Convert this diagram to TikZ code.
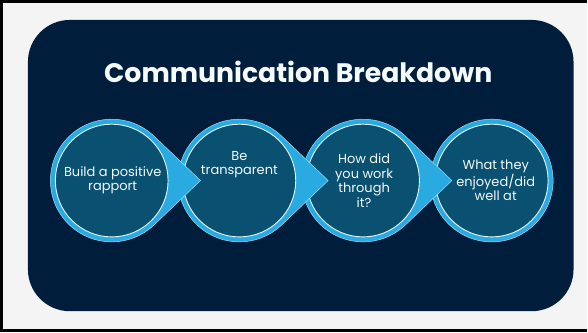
\documentclass[tikz,border=0pt]{standalone}
\usepackage{fontspec}
\setmainfont{Poppins}
\usetikzlibrary{calc}
\definecolor{Paper}{HTML}{F4F4F4}
\definecolor{Navy}{HTML}{001E3B}
\definecolor{Sky}{HTML}{29ABE2}
\definecolor{Deep}{HTML}{0A5070}
\tikzset{
  title/.style={anchor=base, text=white!96!Sky, font=\fontsize{26.8}{30}\selectfont\bfseries},
  stage/.style={circle, fill=Deep, draw=white!88!Sky, line width=0.9pt,
    minimum size=113pt, inner sep=0pt},
  ring/.style={fill=Sky, draw=white!55!Sky, line width=0.5pt},
  stagetext/.style={align=center, inner sep=0pt, text=white!94!Sky,
    font=\fontsize{13}{14.5}\selectfont}
}
\begin{document}
\begin{tikzpicture}[x=1pt,y=1pt]
  % page and frame
  \fill[Paper] (0,0) rectangle (588,333);
  \draw[line width=3pt] (588,331.5) -- (1.5,331.5) -- (1.5,1.5) -- (588,1.5);
  \fill[Navy, rounded corners=42pt] (28,21) rectangle (575,313);
  \node[title] (head) at (299,250) {Communication Breakdown};
  % stages, drawn right to left so each tip lies over the next one
  \foreach \i/\x in {4/493,3/364,2/240,1/112}{
    \coordinate (c\i) at (\x,152);
    \ifnum\i<4
      \coordinate (p\i) at ($(c\i)+(89,0)$);
      \filldraw[ring] ($(c\i)+(47:61.5)$) arc[start angle=47, end angle=313, radius=61.5]
        -- (p\i) -- cycle;
    \else
      \filldraw[ring] (c\i) circle (61.5);
    \fi
    \node[stage] (s\i) at (c\i) {};
  }
  \node[stagetext] (t1) at ($(s1)+(1,0.5)$) {Build a positive\\rapport};
  \node[stagetext] (t2) at ($(s2)+(0,16)$) {Be\\transparent};
  \node[stagetext] (t3) at ($(s3)+(1,0)$) {How did\\you work\\through\\it?};
  \node[stagetext] (t4) at ($(s4)+(4,0)$) {What they\\enjoyed/did\\well at};
\end{tikzpicture}
\end{document}
